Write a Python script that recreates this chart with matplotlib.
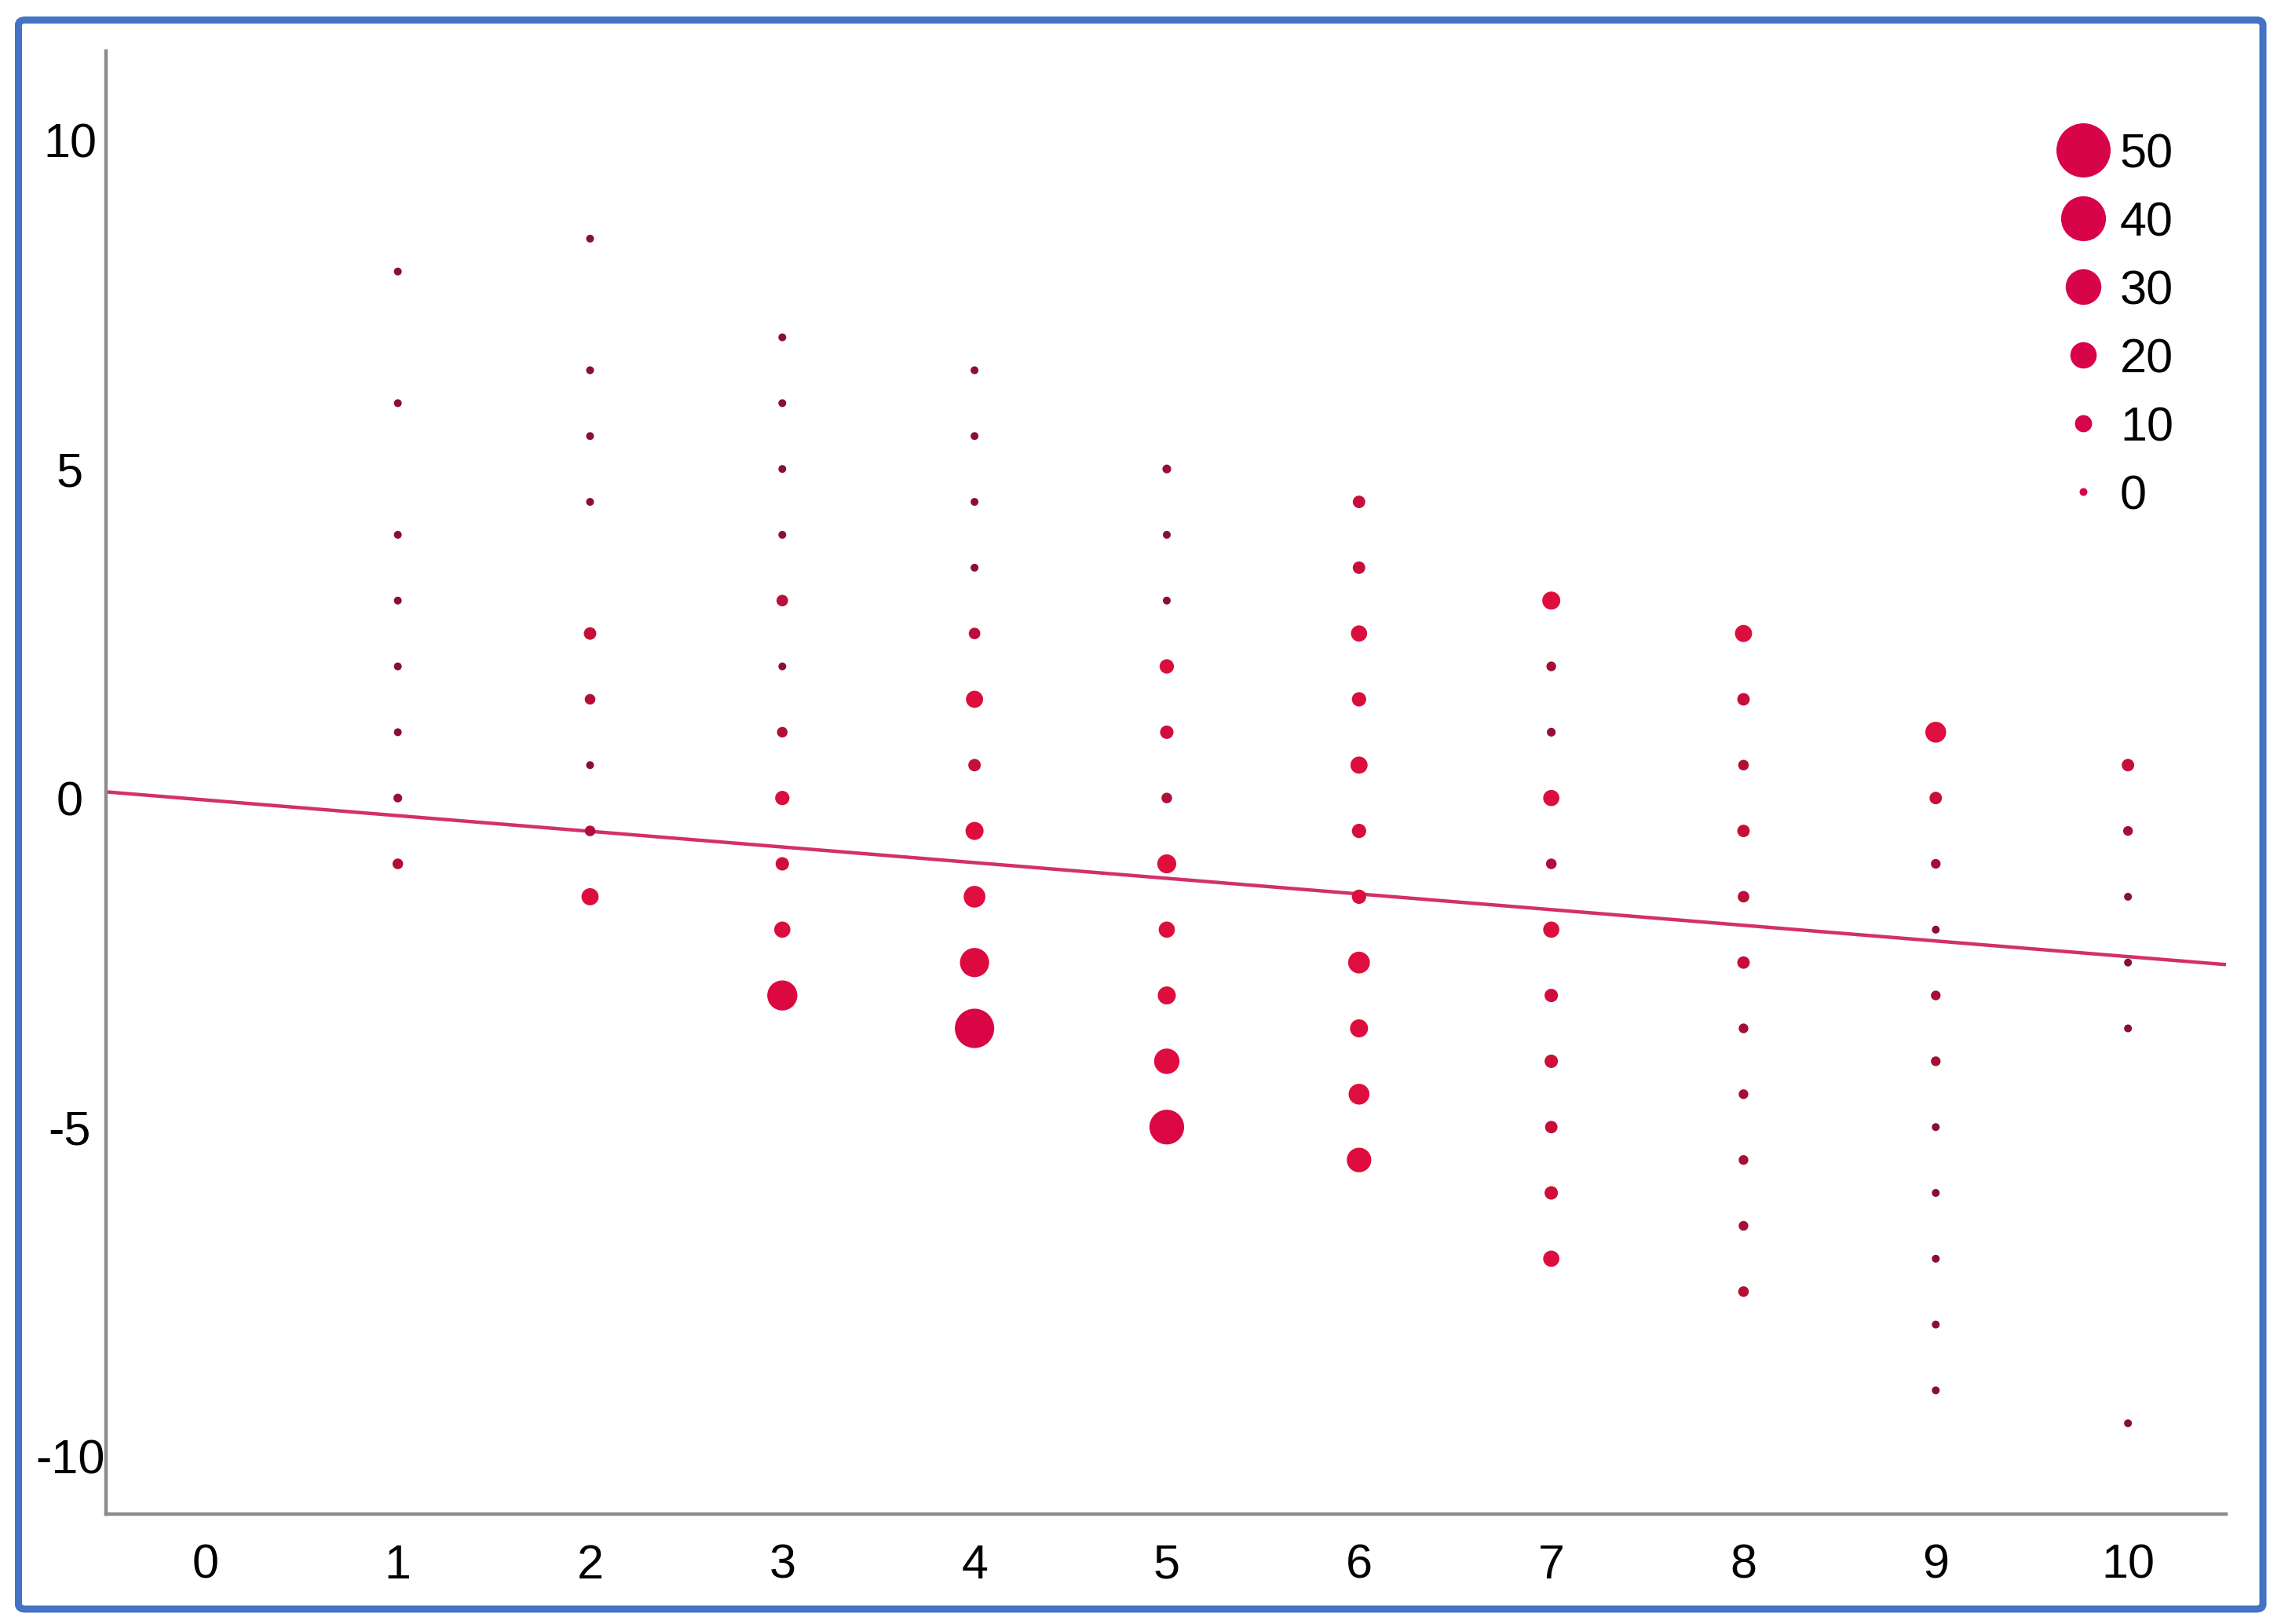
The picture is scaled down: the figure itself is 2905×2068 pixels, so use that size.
import matplotlib
matplotlib.use("Agg")
import matplotlib.pyplot as plt
import numpy as np
from matplotlib.colors import LinearSegmentedColormap
from matplotlib.patches import FancyBboxPatch

plt.rcParams['font.family'] = ['Liberation Sans', 'DejaVu Sans']

# ---------------- data ----------------
COLUMN_X = [1, 2, 3, 4, 5, 6, 7, 8, 9, 10]
COLUMN_Y = [
    [8, 6, 4, 3, 2, 1, 0, -1],
    [8.5, 6.5, 5.5, 4.5, 2.5, 1.5, 0.5, -0.5, -1.5],
    [7, 6, 5, 4, 3, 2, 1, 0, -1, -2, -3],
    [6.5, 5.5, 4.5, 3.5, 2.5, 1.5, 0.5, -0.5, -1.5, -2.5, -3.5],
    [5, 4, 3, 2, 1, 0, -1, -2, -3, -4, -5],
    [4.5, 3.5, 2.5, 1.5, 0.5, -0.5, -1.5, -2.5, -3.5, -4.5, -5.5],
    [3, 2, 1, 0, -1, -2, -3, -4, -5, -6, -7],
    [2.5, 1.5, 0.5, -0.5, -1.5, -2.5, -3.5, -4.5, -5.5, -6.5, -7.5],
    [1, 0, -1, -2, -3, -4, -5, -6, -7, -8, -9],
    [0.5, -0.5, -1.5, -2.5, -3.5, -9.5],
]
COLUMN_SIZE = [
    [0, 0, 0, 0, 0, 0, 1, 3],
    [0, 0, 0, 0, 5, 3, 0, 3, 10],
    [0, 0, 0, 0, 4, 0, 3, 7, 6, 9, 24],
    [0, 0, 0, 0, 4, 10, 5, 11, 15, 23, 34],
    [1, 0, 0, 7, 6, 3, 12, 9, 11, 19, 29],
    [5, 5, 9, 7, 10, 7, 7, 15, 11, 14, 18],
    [11, 2, 1, 9, 3, 9, 6, 6, 5, 6, 9],
    [10, 5, 3, 5, 4, 5, 2, 2, 2, 2, 3],
    [14, 5, 2, 0, 2, 2, 0, 0, 0, 0, 0],
    [5, 2, 0, 0, 0, 0],
]
LEGEND_VALUES = [50, 40, 30, 20, 10, 0]
LINE_INTERCEPT = -0.03
LINE_SLOPE = -0.238
X_TICKS = [0, 1, 2, 3, 4, 5, 6, 7, 8, 9, 10]
Y_TICKS = [-10, -5, 0, 5, 10]
Y_TICK_LABELS = ['-10', '-5', '0', '5', '10']

# ---------------- styling helpers ----------------
DPI = 100
PX2PT = 72.0 / DPI
FONT_SIZE = 44


def marker_area(v):
    d_px = 10 + 1.18 * np.asarray(v, dtype=float)
    return (d_px * PX2PT) ** 2


cmap = LinearSegmentedColormap.from_list(
    'dots', [(0.0, '#8A1030'), (0.06, '#B20F38'), (0.14, '#DA0E3C'),
             (0.3, '#E00E3E'), (0.6, '#DA0642'), (1.0, '#D4024A')])


def dot_color(v):
    return cmap(np.clip(np.asarray(v, dtype=float) / 50.0, 0, 1))


W, H = 2905, 2068
fig = plt.figure(figsize=(W / DPI, H / DPI), dpi=DPI)
fig.patch.set_facecolor('white')

ax_left, ax_right, ax_top, ax_bottom = 134.5, 2835, 65, 1928
ax = fig.add_axes([ax_left / W, 1 - ax_bottom / H,
                   (ax_right - ax_left) / W, (ax_bottom - ax_top) / H])

XMIN, XMAX = -0.52, 10.51
YMIN, YMAX = -10.88, 11.35
ax.set_xlim(XMIN, XMAX)
ax.set_ylim(YMIN, YMAX)

# points
for xv, ys, ss in zip(COLUMN_X, COLUMN_Y, COLUMN_SIZE):
    xs = np.full(len(ys), xv, dtype=float)
    ax.scatter(xs, ys, s=marker_area(ss), c=dot_color(ss), linewidths=0,
               zorder=3)

# regression line
lx = np.array([XMIN, XMAX])
ax.plot(lx, LINE_INTERCEPT + LINE_SLOPE * lx, color='#D3306A', lw=3.2,
        zorder=2, solid_capstyle='butt')

# spines / ticks
for side in ['top', 'right']:
    ax.spines[side].set_visible(False)
for side in ['left', 'bottom']:
    ax.spines[side].set_color('#8C8C8C')
    ax.spines[side].set_linewidth(3.2)

ax.set_xticks(X_TICKS)
ax.set_xticklabels([str(t) for t in X_TICKS])
ax.set_yticks(Y_TICKS)
ax.set_yticklabels(Y_TICK_LABELS)
ax.tick_params(axis='both', length=0, labelsize=FONT_SIZE, colors='black')
ax.tick_params(axis='x', pad=27)
ax.tick_params(axis='y', pad=32.8)
for lab in ax.get_yticklabels():
    lab.set_horizontalalignment('center')

# size legend (drawn in axes coordinates)
leg_x = 0.9326
leg_text_x = 0.950
leg_y0 = 0.9324
leg_dy = 0.0467
for i, v in enumerate(LEGEND_VALUES):
    yy = leg_y0 - i * leg_dy
    ax.scatter([leg_x], [yy], s=marker_area(v), color='#D8044A',
               linewidths=0, transform=ax.transAxes, zorder=4, clip_on=False)
    ax.text(leg_text_x, yy - 0.004, str(v), transform=ax.transAxes,
            fontsize=FONT_SIZE, ha='left', va='center', color='black')

# blue frame
frame = FancyBboxPatch((23.5 / W, 1 - 2049 / H), (2882 - 23.5) / W,
                       (2049 - 25.5) / H,
                       boxstyle='round,pad=0,rounding_size=0.003',
                       transform=fig.transFigure, fill=False,
                       edgecolor='#4472C4', linewidth=9 * PX2PT, zorder=10)
fig.patches.append(frame)

fig.savefig('out.png', dpi=DPI, facecolor='white')
